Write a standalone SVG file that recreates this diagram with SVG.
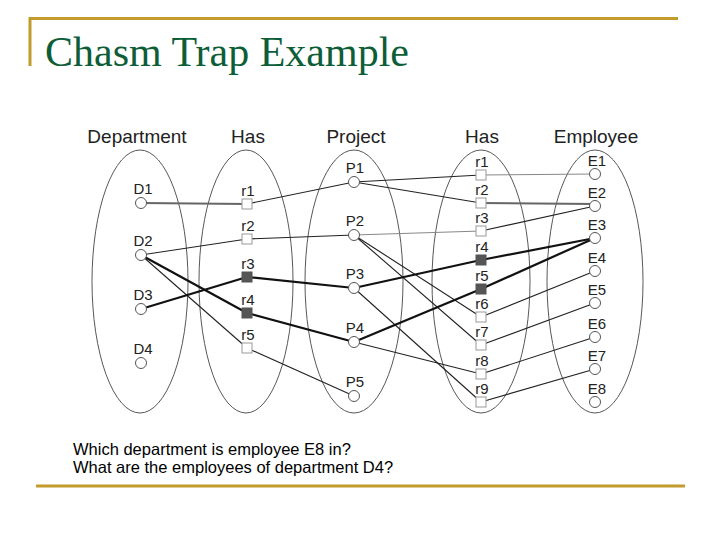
<svg xmlns="http://www.w3.org/2000/svg" width="720" height="540" viewBox="0 0 720 540">
<style>
.frame{stroke:#c29b2c;stroke-width:3;fill:none}
.title{font-family:"Liberation Serif","Times New Roman",serif;font-size:42px;fill:#0d5e38}
.hdr{font-family:"Liberation Sans",Arial,sans-serif;font-size:19px;fill:#222;text-anchor:middle}
.lbl{font-family:"Liberation Sans",Arial,sans-serif;font-size:15px;fill:#222;text-anchor:middle}
.q{font-family:"Liberation Sans",Arial,sans-serif;font-size:16.5px;fill:#000}
.set{fill:none;stroke:#444;stroke-width:0.9}
.c{fill:#fff;stroke:#555;stroke-width:1}
.b{fill:#fff;stroke:#999;stroke-width:1}
.bf{fill:#555;stroke:#555;stroke-width:1}
.thin{stroke:#222;stroke-width:1.1;fill:none}
.thick{stroke:#111;stroke-width:2.2;fill:none}
.gray{stroke:#888;stroke-width:1.2;fill:none}
.gray2{stroke:#666;stroke-width:2;fill:none}
</style>
<rect width="720" height="540" fill="#fff"/>
<g id="frame">
<polyline class="frame" points="30,66 30,18.5 678,18.5"/>
<line class="frame" x1="36" y1="486" x2="685" y2="486"/>
</g>
<text class="title" x="45" y="66">Chasm Trap Example</text>
<g id="sets">
<ellipse class="set" cx="140" cy="281.5" rx="48" ry="131.5"/>
<ellipse class="set" cx="246" cy="281.5" rx="47" ry="131.5"/>
<ellipse class="set" cx="354" cy="281.5" rx="49" ry="131.5"/>
<ellipse class="set" cx="481" cy="281.5" rx="49" ry="131.5"/>
<ellipse class="set" cx="595" cy="281.5" rx="48" ry="131.5"/>
</g>
<g id="headers">
<text class="hdr" x="137" y="143">Department</text>
<text class="hdr" x="248" y="143">Has</text>
<text class="hdr" x="356" y="143">Project</text>
<text class="hdr" x="482" y="143">Has</text>
<text class="hdr" x="596" y="143">Employee</text>
</g>
<g id="connectors">
<line class="gray2" x1="141" y1="203" x2="247" y2="204"/>
<line class="thin" x1="141" y1="255" x2="247" y2="239"/>
<line class="thin" x1="247" y1="239" x2="354" y2="235"/>
<line class="thin" x1="247" y1="204" x2="354" y2="182"/>
<line class="thick" x1="141" y1="255" x2="247" y2="313"/>
<line class="thick" x1="247" y1="313" x2="354" y2="342"/>
<line class="thin" x1="141" y1="255" x2="247" y2="348"/>
<line class="thin" x1="247" y1="348" x2="354" y2="396"/>
<line class="thick" x1="141" y1="309" x2="247" y2="277"/>
<line class="thick" x1="247" y1="277" x2="354" y2="288"/>
<line class="thin" x1="354" y1="182" x2="481" y2="175"/>
<line class="thin" x1="354" y1="182" x2="481" y2="203"/>
<line class="gray" x1="354" y1="235" x2="481" y2="231"/>
<line class="thin" x1="354" y1="235" x2="481" y2="317"/>
<line class="thin" x1="354" y1="235" x2="481" y2="345"/>
<line class="thick" x1="354" y1="288" x2="481" y2="260"/>
<line class="thin" x1="354" y1="288" x2="481" y2="402"/>
<line class="thick" x1="354" y1="342" x2="481" y2="289"/>
<line class="thin" x1="354" y1="342" x2="481" y2="374"/>
<line class="gray" x1="481" y1="175" x2="595" y2="174"/>
<line class="gray2" x1="481" y1="203" x2="595" y2="204"/>
<line class="thin" x1="481" y1="231" x2="595" y2="206"/>
<line class="thick" x1="481" y1="260" x2="595" y2="238"/>
<line class="thick" x1="481" y1="289" x2="595" y2="238"/>
<line class="thin" x1="481" y1="317" x2="595" y2="271"/>
<line class="thin" x1="481" y1="345" x2="595" y2="303"/>
<line class="thin" x1="481" y1="374" x2="595" y2="337"/>
<line class="thin" x1="481" y1="402" x2="595" y2="369"/>
</g>
<g id="D1"><circle class="c" cx="141" cy="203" r="5.5"/><text class="lbl" x="143" y="194">D1</text></g>
<g id="D2"><circle class="c" cx="141" cy="255" r="5.5"/><text class="lbl" x="143" y="246">D2</text></g>
<g id="D3"><circle class="c" cx="141" cy="309" r="5.5"/><text class="lbl" x="143" y="300">D3</text></g>
<g id="D4"><circle class="c" cx="141" cy="363" r="5.5"/><text class="lbl" x="143" y="354">D4</text></g>
<g id="hasL-r1"><rect class="b" x="242" y="199" width="10" height="10"/><text class="lbl" x="248" y="196">r1</text></g>
<g id="hasL-r2"><rect class="b" x="242" y="234" width="10" height="10"/><text class="lbl" x="248" y="231">r2</text></g>
<g id="hasL-r3"><rect class="bf" x="242" y="272" width="10" height="10"/><text class="lbl" x="248" y="269">r3</text></g>
<g id="hasL-r4"><rect class="bf" x="242" y="308" width="10" height="10"/><text class="lbl" x="248" y="305">r4</text></g>
<g id="hasL-r5"><rect class="b" x="242" y="343" width="10" height="10"/><text class="lbl" x="248" y="340">r5</text></g>
<g id="P1"><circle class="c" cx="354" cy="182" r="5.5"/><text class="lbl" x="355" y="173">P1</text></g>
<g id="P2"><circle class="c" cx="354" cy="235" r="5.5"/><text class="lbl" x="355" y="226">P2</text></g>
<g id="P3"><circle class="c" cx="354" cy="288" r="5.5"/><text class="lbl" x="355" y="279">P3</text></g>
<g id="P4"><circle class="c" cx="354" cy="342" r="5.5"/><text class="lbl" x="355" y="333">P4</text></g>
<g id="P5"><circle class="c" cx="354" cy="396" r="5.5"/><text class="lbl" x="355" y="387">P5</text></g>
<g id="hasR-r1"><rect class="b" x="476" y="170" width="10" height="10"/><text class="lbl" x="482" y="167">r1</text></g>
<g id="hasR-r2"><rect class="b" x="476" y="198" width="10" height="10"/><text class="lbl" x="482" y="195">r2</text></g>
<g id="hasR-r3"><rect class="b" x="476" y="226" width="10" height="10"/><text class="lbl" x="482" y="223">r3</text></g>
<g id="hasR-r4"><rect class="bf" x="476" y="255" width="10" height="10"/><text class="lbl" x="482" y="252">r4</text></g>
<g id="hasR-r5"><rect class="bf" x="476" y="284" width="10" height="10"/><text class="lbl" x="482" y="281">r5</text></g>
<g id="hasR-r6"><rect class="b" x="476" y="312" width="10" height="10"/><text class="lbl" x="482" y="309">r6</text></g>
<g id="hasR-r7"><rect class="b" x="476" y="340" width="10" height="10"/><text class="lbl" x="482" y="337">r7</text></g>
<g id="hasR-r8"><rect class="b" x="476" y="369" width="10" height="10"/><text class="lbl" x="482" y="366">r8</text></g>
<g id="hasR-r9"><rect class="b" x="476" y="397" width="10" height="10"/><text class="lbl" x="482" y="394">r9</text></g>
<g id="E1"><circle class="c" cx="595" cy="174" r="5.5"/><text class="lbl" x="597" y="166">E1</text></g>
<g id="E2"><circle class="c" cx="595" cy="206" r="5.5"/><text class="lbl" x="597" y="198">E2</text></g>
<g id="E3"><circle class="c" cx="595" cy="238" r="5.5"/><text class="lbl" x="597" y="230">E3</text></g>
<g id="E4"><circle class="c" cx="595" cy="271" r="5.5"/><text class="lbl" x="597" y="263">E4</text></g>
<g id="E5"><circle class="c" cx="595" cy="303" r="5.5"/><text class="lbl" x="597" y="295">E5</text></g>
<g id="E6"><circle class="c" cx="595" cy="337" r="5.5"/><text class="lbl" x="597" y="329">E6</text></g>
<g id="E7"><circle class="c" cx="595" cy="369" r="5.5"/><text class="lbl" x="597" y="361">E7</text></g>
<g id="E8"><circle class="c" cx="595" cy="402" r="5.5"/><text class="lbl" x="597" y="394">E8</text></g>
<g id="questions">
<text class="q" x="73" y="455">Which department is employee E8 in?</text>
<text class="q" x="73" y="473">What are the employees of department D4?</text>
</g>
</svg>
